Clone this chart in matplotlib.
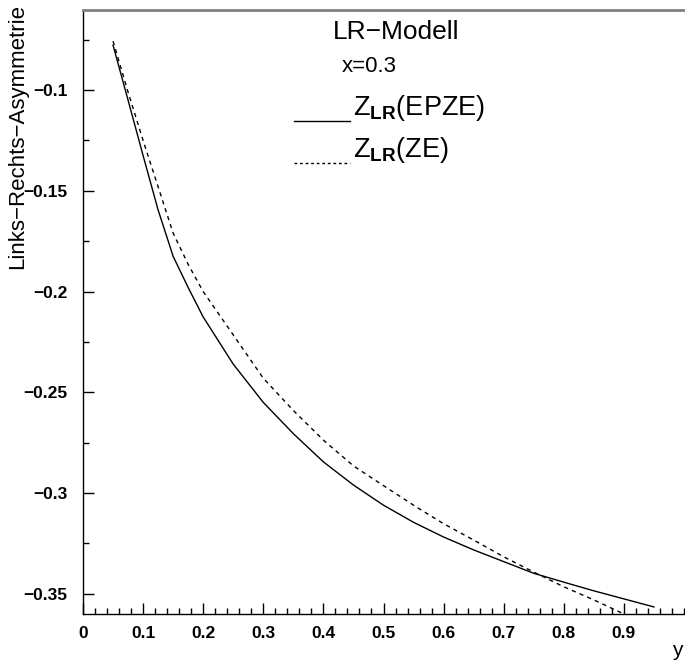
import numpy as np
import matplotlib
matplotlib.use('Agg')
import matplotlib.pyplot as plt
from matplotlib.lines import Line2D

plt.rcParams['font.family'] = ['Liberation Sans', 'DejaVu Sans']
plt.rcParams['mathtext.fontset'] = 'custom'
plt.rcParams['mathtext.rm'] = 'Liberation Sans'
plt.rcParams['mathtext.bf'] = 'Liberation Sans:bold'

# Links-Rechts-Asymmetrie gegen y, LR-Modell, x=0.3
y_epze = [0.05, 0.075, 0.10, 0.125, 0.15, 0.175, 0.20, 0.25, 0.30, 0.35, 0.40, 0.45, 0.50,
          0.55, 0.60, 0.65, 0.70, 0.75, 0.80, 0.85, 0.90, 0.95]
a_epze = [-0.0777, -0.1050, -0.1325, -0.1595, -0.1825, -0.1980, -0.2126, -0.2360, -0.2550,
          -0.2705, -0.2845, -0.2960, -0.3060, -0.3145, -0.3218, -0.3282, -0.3340, -0.3398,
          -0.3442, -0.3485, -0.3525, -0.3565]

y_ze = [0.05, 0.075, 0.10, 0.125, 0.15, 0.175, 0.20, 0.25, 0.30, 0.35, 0.40, 0.45, 0.50,
        0.55, 0.60, 0.65, 0.70, 0.75, 0.80, 0.85, 0.90]
a_ze = [-0.0757, -0.1010, -0.1250, -0.1480, -0.1710, -0.1865, -0.2000, -0.2215, -0.2430,
        -0.2590, -0.2737, -0.2865, -0.2963, -0.3060, -0.3152, -0.3233, -0.3316, -0.3392,
        -0.3465, -0.3530, -0.3600]

W, H = 685, 663
fig = plt.figure(figsize=(W / 100, H / 100), dpi=100)
ax = fig.add_axes([83 / W, 1 - 614 / H, 601 / W, 604.5 / H])

ax.plot(y_epze, a_epze, color='black', lw=1.0)
ax.plot(y_ze, a_ze, color='black', lw=1.0, linestyle=(0, (3, 3)))

ax.set_xlim(0, 1.0)
ax.set_ylim(-0.36, -0.06)

ax.set_xticks(np.arange(0, 0.95, 0.1))
ax.set_xticklabels(['0', '0.1', '0.2', '0.3', '0.4', '0.5', '0.6', '0.7', '0.8', '0.9'])
ax.set_xticks(np.arange(0, 1.0001, 0.02), minor=True)
ax.set_yticks([-0.35, -0.3, -0.25, -0.2, -0.15, -0.1])
ax.set_yticklabels(['\u22120.35', '\u22120.3', '\u22120.25', '\u22120.2', '\u22120.15', '\u22120.1'])
ax.set_yticks(np.arange(-0.35, -0.06, 0.025), minor=True)

ax.tick_params(axis='both', which='major', direction='in', length=8, width=1,
               labelsize=12.5, color='black')
ax.tick_params(axis='both', which='minor', direction='in', length=4, width=1, color='black')
ax.tick_params(axis='y', which='major', pad=11)
ax.tick_params(axis='x', which='major', pad=9)
for t in ax.get_xticklabels() + ax.get_yticklabels():
    t.set_fontweight('bold')

ax.spines['right'].set_visible(False)
ax.spines['top'].set_color('#808080')
ax.spines['top'].set_linewidth(2)
ax.spines['left'].set_linewidth(1)
ax.spines['bottom'].set_linewidth(1)

# Beschriftungen
fig.text(18 / W, 1 - 4 / H, 'Links\u2212Rechts\u2212Asymmetrie', rotation=90,
         ha='center', va='top', fontsize=16)
fig.text(677 / W, 1 - 651 / H, 'y', ha='center', va='center', fontsize=15)
fig.text(396 / W, 1 - 32 / H, 'LR\u2212Modell', ha='center', va='center', fontsize=19)
fig.text(369 / W, 1 - 66 / H, 'x=0.3', ha='center', va='center', fontsize=16)

fig.add_artist(Line2D([294 / W, 350 / W], [1 - 121 / H, 1 - 121 / H], color='black', lw=1))
fig.add_artist(Line2D([294 / W, 350 / W], [1 - 163 / H, 1 - 163 / H], color='black', lw=1,
                      linestyle=(0, (2, 2))))
fig.text(353 / W, 1 - 115 / H, r'Z$_{\mathbf{LR}}$(EPZE)', ha='left', va='baseline', fontsize=19.5)
fig.text(353 / W, 1 - 157 / H, r'Z$_{\mathbf{LR}}$(ZE)', ha='left', va='baseline', fontsize=19.5)

fig.savefig('out.png', dpi=100)
